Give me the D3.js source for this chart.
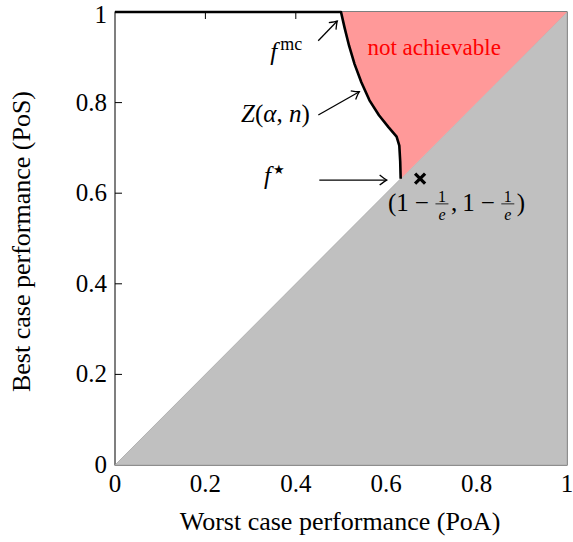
<!DOCTYPE html>
<html lang="en">
<head>
<meta charset="UTF-8">
<title>PoA vs PoS</title>
<style>
    body { margin: 0; background: #fff; }
</style>
</head>
<body>
<svg id="chart" width="573" height="542"></svg>
<script src="https://d3js.org/d3.v7.min.js"></script>
<script>
    // tick values and labels
    const xTicks = [0, 0.2, 0.4, 0.6, 0.8, 1];
    const yTicks = [0, 0.2, 0.4, 0.6, 0.8, 1];
    const tickLabels = ["0", "0.2", "0.4", "0.6", "0.8", "1"];

    // boundary curve Z(alpha, n): worst case (x) vs best case (y)
    const curvePoA = [0, 0.5, 0.508, 0.518, 0.53, 0.545, 0.563, 0.584, 0.605, 0.623, 0.629, 0.631, 0.632];
    const curvePoS = [1, 1, 0.965, 0.925, 0.885, 0.845, 0.805, 0.772, 0.746, 0.725, 0.705, 0.67, 0.632];

    // the point (1 - 1/e, 1 - 1/e)
    const star = 1 - 1 / Math.E;

    const FONT = '"Liberation Serif", "Times New Roman", serif';
    const svg = d3.select("#chart");
    const x = d3.scaleLinear().domain([0, 1]).range([115, 567]);
    const y = d3.scaleLinear().domain([0, 1]).range([465, 12]);

    // frame + inward ticks
    svg.append("rect")
        .attr("x", x(0)).attr("y", y(1))
        .attr("width", x(1) - x(0)).attr("height", y(0) - y(1))
        .attr("fill", "none").attr("stroke", "#000").attr("stroke-width", 1);

    const tl = 7;
    xTicks.slice(1, -1).forEach(t => {
        svg.append("line").attr("x1", x(t)).attr("x2", x(t)).attr("y1", y(0)).attr("y2", y(0) - tl).attr("stroke", "#000");
        svg.append("line").attr("x1", x(t)).attr("x2", x(t)).attr("y1", y(1)).attr("y2", y(1) + tl).attr("stroke", "#000");
    });
    yTicks.slice(1, -1).forEach(t => {
        svg.append("line").attr("y1", y(t)).attr("y2", y(t)).attr("x1", x(0)).attr("x2", x(0) + tl).attr("stroke", "#000");
        svg.append("line").attr("y1", y(t)).attr("y2", y(t)).attr("x1", x(1)).attr("x2", x(1) - tl).attr("stroke", "#000");
    });

    const line = d3.line().x(d => x(d[0])).y(d => y(d[1]));
    const curve = curvePoA.map((v, i) => [v, curvePoS[i]]);

    // gray region: below the diagonal
    svg.append("path")
        .attr("d", line([[0, 0], [1, 0], [1, 1]]) + "Z")
        .attr("fill", "#c0c0c0").attr("stroke", "#a6a6a6").attr("stroke-width", 0.8);

    // red region: between boundary and diagonal
    const redPts = [[0.5, 1], [1, 1], [star, star]].concat(curve.slice(1).reverse());
    svg.append("path")
        .attr("d", line(redPts) + "Z")
        .attr("fill", "#ff9999");

    // boundary
    svg.append("path")
        .attr("d", line(curve))
        .attr("fill", "none").attr("stroke", "#000")
        .attr("stroke-width", 2.6).attr("stroke-linejoin", "round");

    function txt(sel, size) {
        return sel.append("text").style("font-family", FONT).attr("font-size", size || 25).attr("fill", "#000");
    }

    // tick labels
    xTicks.forEach((t, i) => {
        txt(svg).attr("x", x(t)).attr("y", 492)
            .attr("text-anchor", "middle").text(tickLabels[i]);
    });
    yTicks.forEach((t, i) => {
        txt(svg).attr("x", 107).attr("y", Math.max(y(t) + 8, 23))
            .attr("text-anchor", "end").text(tickLabels[i]);
    });

    txt(svg, 26).attr("x", x(0.5) - 1).attr("y", 530)
        .attr("text-anchor", "middle").text("Worst case performance (PoA)");
    txt(svg, 26).attr("transform", `translate(30,${y(0.5) + 3}) rotate(-90)`)
        .attr("text-anchor", "middle").text("Best case performance (PoS)");

    // arrows
    svg.append("defs").append("marker")
        .attr("id", "head").attr("viewBox", "-8 -6 10 12")
        .attr("markerWidth", 10).attr("markerHeight", 12)
        .attr("markerUnits", "userSpaceOnUse").attr("orient", "auto")
        .append("path")
        .attr("d", "M-7,-5 Q-2,-1 0,0 Q-2,1 -7,5")
        .attr("fill", "none").attr("stroke", "#000").attr("stroke-width", 1.3);

    const arrows = [
        [[0.4496, 0.9366], [0.4918, 0.980]],
        [[0.4498, 0.7726], [0.5405, 0.824]],
        [[0.452, 0.629], [0.601, 0.629]]
    ];
    arrows.forEach(a => {
        svg.append("path").attr("d", line(a))
            .attr("stroke", "#000").attr("stroke-width", 1.3)
            .attr("fill", "none").attr("marker-end", "url(#head)");
    });

    // math labels
    const fmc = txt(svg).attr("font-style", "italic")
        .attr("x", x(0.414)).attr("y", y(0.893)).attr("text-anchor", "end");
    fmc.append("tspan").text("f");
    fmc.append("tspan").attr("font-style", "normal").attr("font-size", 18).attr("dy", -10).attr("dx", 3).text("mc");

    const z = txt(svg).attr("font-style", "italic")
        .attr("x", x(0.431)).attr("y", y(0.757)).attr("text-anchor", "end");
    z.append("tspan").text("Z");
    z.append("tspan").attr("font-style", "normal").text("(");
    z.append("tspan").text("α");
    z.append("tspan").attr("font-style", "normal").text(",\u00a0");
    z.append("tspan").text("n");
    z.append("tspan").attr("font-style", "normal").text(")");

    const fs = txt(svg).attr("font-style", "italic")
        .attr("x", x(0.376)).attr("y", y(0.620)).attr("text-anchor", "end");
    fs.append("tspan").text("f");
    fs.append("tspan").attr("font-style", "normal").attr("font-size", 13).attr("dy", -10).attr("dx", 2).text("★");

    txt(svg, 23).attr("x", x(0.706)).attr("y", y(0.905))
        .attr("text-anchor", "middle").attr("fill", "#ff0000")
        .text("not achievable");

    // cross marker
    const cx = x(0.675), cy = y(star), cs = 5;
    svg.append("path")
        .attr("d", `M${cx - cs},${cy - cs}L${cx + cs},${cy + cs}M${cx - cs},${cy + cs}L${cx + cs},${cy - cs}`)
        .attr("stroke", "#000").attr("stroke-width", 3.2);

    // label (1 - 1/e, 1 - 1/e) laid out piece by piece
    const lab = svg.append("g");
    let px = x(0.604);
    const base = y(0.561);
    function piece(str, gapAfter) {
        const t = txt(lab).attr("x", px).attr("y", base).text(str);
        px += t.node().getComputedTextLength() + (gapAfter || 0);
    }
    function frac(num, den) {
        const n = txt(lab, 16).attr("y", base - 9).text(num);
        const d = txt(lab, 16).attr("y", base + 9).attr("font-style", "italic").text(den);
        const w = Math.max(n.node().getComputedTextLength(), d.node().getComputedTextLength()) + 8;
        n.attr("x", px + w / 2).attr("text-anchor", "middle");
        d.attr("x", px + w / 2).attr("text-anchor", "middle");
        lab.append("line").attr("x1", px + 1.5).attr("x2", px + w - 1.5)
            .attr("y1", base - 7).attr("y2", base - 7).attr("stroke", "#000").attr("stroke-width", 0.8);
        px += w + 1;
    }
    piece("(1", 6);
    piece("−", 5);
    frac("1", "e");
    piece(",", 5);
    piece("1", 6);
    piece("−", 5);
    frac("1", "e");
    piece(")");
</script>
</body>
</html>
